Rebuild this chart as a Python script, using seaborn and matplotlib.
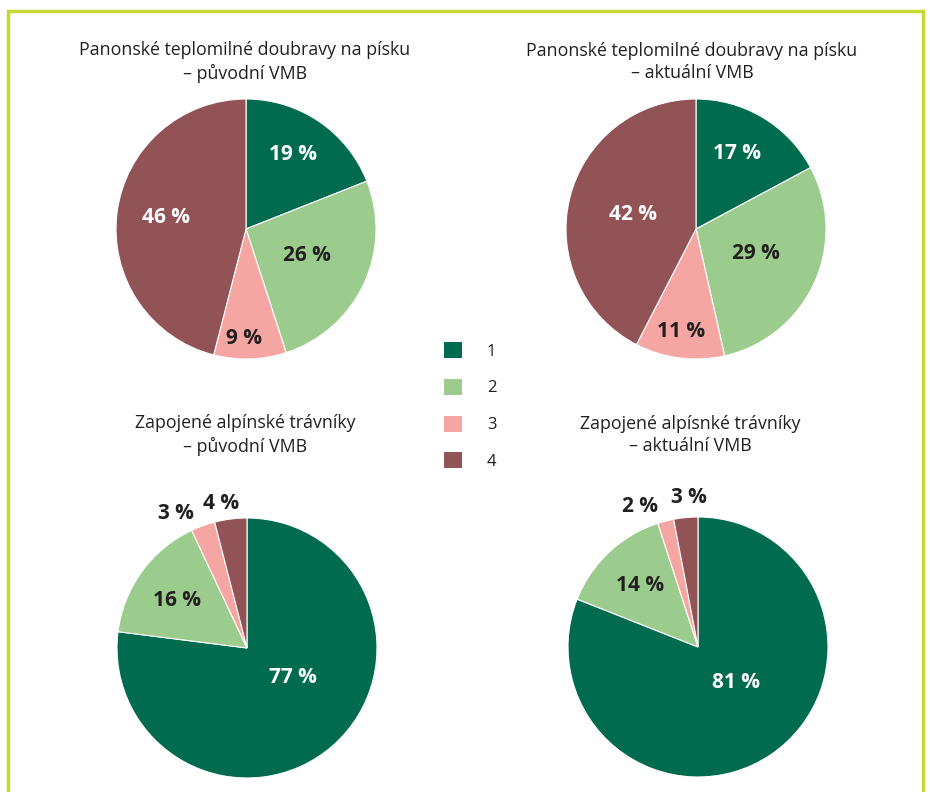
import matplotlib
matplotlib.use("Agg")
import matplotlib.pyplot as plt
from matplotlib.patches import Patch
from matplotlib.lines import Line2D
import seaborn as sns
import numpy as np

sns.set_theme(style="white")
plt.rcParams['font.family'] = ['Open Sans', 'DejaVu Sans']

# ---- data ----
categories = ["1", "2", "3", "4"]
titles = [
    "Panonské teplomilné doubravy na písku\n– původní VMB",
    "Panonské teplomilné doubravy na písku\n– aktuální VMB",
    "Zapojené alpínské trávníky\n– původní VMB",
    "Zapojené alpísnké trávníky\n– aktuální VMB",
]
pano_puvodni = [19, 26, 9, 46]
pano_aktualni = [17, 29, 11, 42]
alp_puvodni = [77, 16, 3, 4]
alp_aktualni = [81, 14, 2, 3]
series = [pano_puvodni, pano_aktualni, alp_puvodni, alp_aktualni]

# ---- style ----
colors = sns.color_palette(["#006b4e", "#9bcc8e", "#f5a6a2", "#925356"])
dark = "#231f20"
# label distance (fraction of radius), angular nudge (deg) and colour per wedge
label_dist = [
    [0.68, 0.51, 0.84, 0.62],
    [0.66, 0.50, 0.80, 0.50],
    [0.42, 0.65, 1.17, 1.13],
    [0.40, 0.65, 1.17, 1.15],
]
label_nudge = [
    [2, 2, -3, -1],
    [2, 2, -1, 1],
    [16, 2, 8, 3],
    [12, 0, 8, -2],
]
label_col = [
    ["white", dark, dark, "white"],
    ["white", dark, dark, "white"],
    ["white", dark, dark, dark],
    ["white", dark, dark, dark],
]
# pie centres (px) and radius
W, H = 930, 792
centres = [(246, 229), (696, 229), (247, 648), (698, 647)]
R = 130
title_pos = [(245, 62), (692, 62), (245, 435), (690, 435)]

fig = plt.figure(figsize=(W / 100, H / 100), dpi=100)
fig.patch.set_facecolor("white")

for i, vals in enumerate(series):
    cx, cy = centres[i]
    ax = fig.add_axes([(cx - R) / W, (H - cy - R) / H, 2 * R / W, 2 * R / H])
    wedges, _ = ax.pie(vals, colors=colors, startangle=90, counterclock=False,
                       radius=1.0,
                       wedgeprops=dict(edgecolor="white", linewidth=0.8))
    ax.set_xlim(-1, 1)
    ax.set_ylim(-1, 1)
    ax.set_aspect("equal")
    ax.axis("off")
    for j, w in enumerate(wedges):
        ang = np.deg2rad((w.theta1 + w.theta2) / 2 + label_nudge[i][j])
        d = label_dist[i][j]
        ax.text(d * np.cos(ang), d * np.sin(ang), f"{vals[j]} %",
                ha="center", va="center", fontsize=15, fontweight="bold",
                color=label_col[i][j], clip_on=False)
    tx, ty = title_pos[i]
    fig.text(tx / W, 1 - ty / H, titles[i], ha="center", va="center",
             fontsize=12.8, color=dark, linespacing=1.3)

handles = [Patch(facecolor=c, edgecolor="none") for c in colors]
fig.legend(handles, categories, loc="center", bbox_to_anchor=(470 / W, 1 - 406 / H),
           frameon=False, fontsize=12, handlelength=1.1, handleheight=1.1,
           labelspacing=1.15, handletextpad=1.5, labelcolor=dark)

# border frame (left, top, right)
bc = "#c5d934"
x0, x1, y0 = 7.5 / W, 922.5 / W, 1 - 10.5 / H
fig.add_artist(Line2D([x0, x0, x1, x1], [-0.01, y0, y0, -0.01],
                      transform=fig.transFigure, color=bc, linewidth=2.5,
                      solid_joinstyle="miter"))

fig.savefig("out.png", dpi=100, facecolor="white")
